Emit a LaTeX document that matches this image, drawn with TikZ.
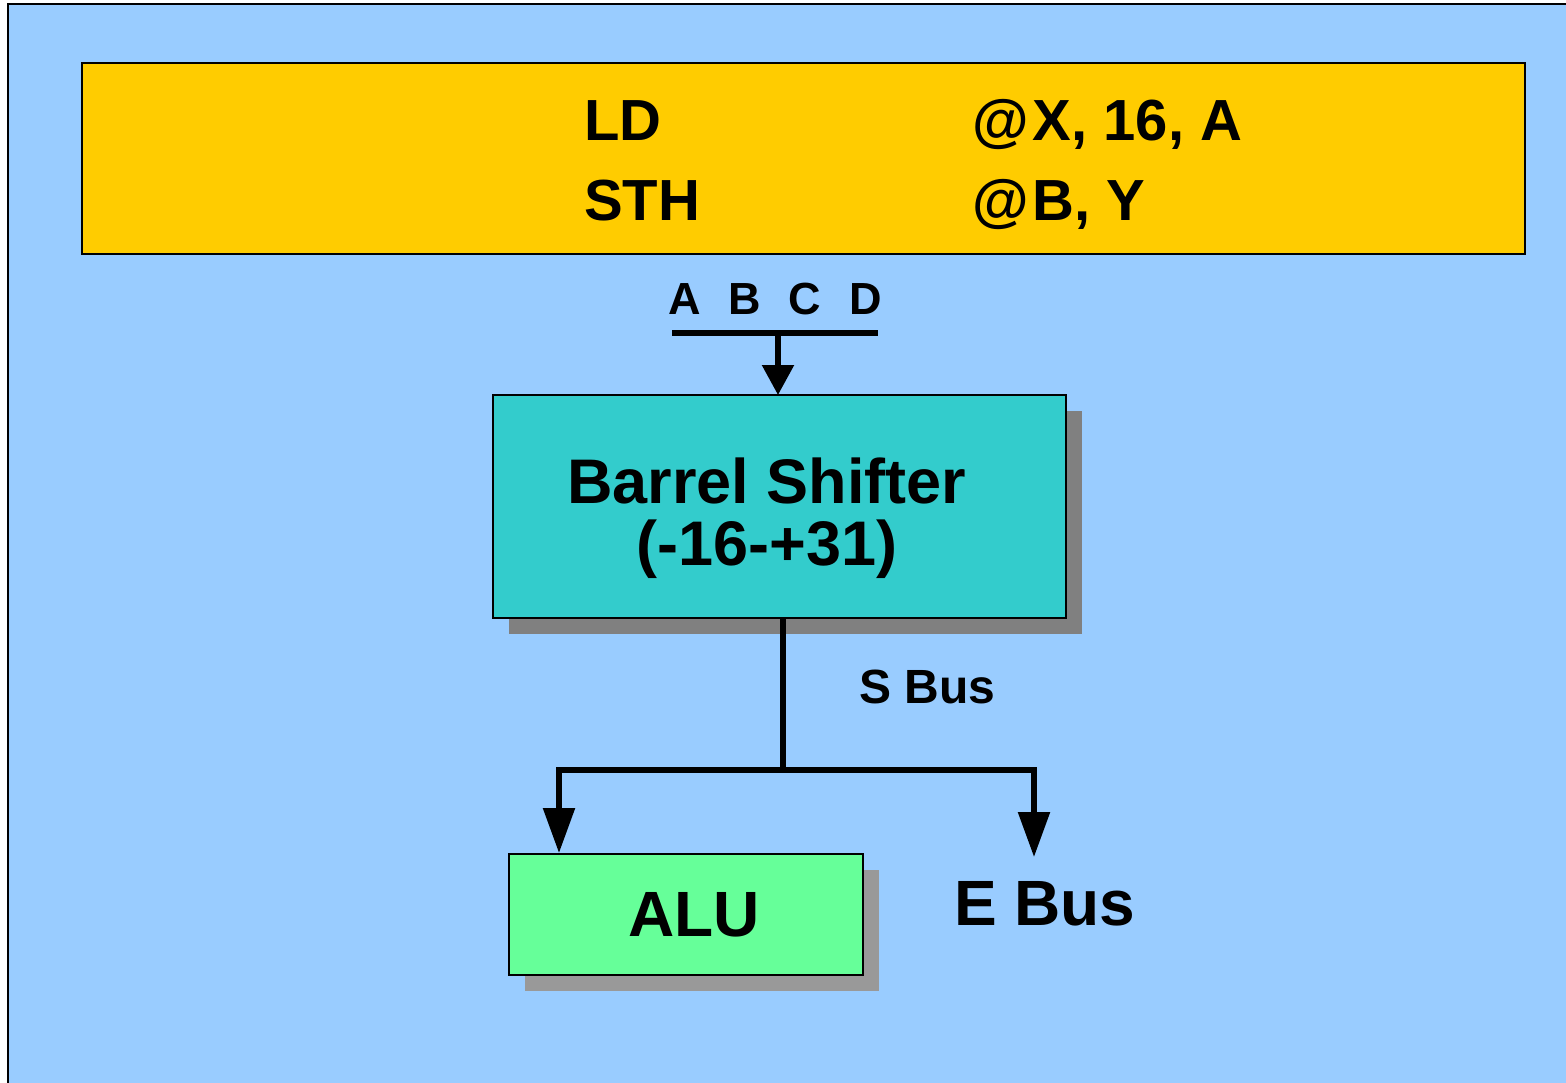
\documentclass[tikz,border=0pt]{standalone}
\usepackage{fontspec}
\setmainfont{Liberation Sans}
\usepackage{tikz}
\usetikzlibrary{arrows.meta,positioning,shadows}

\definecolor{slideblue}{HTML}{99CCFF}
\definecolor{codeyellow}{HTML}{FFCC00}
\definecolor{shifterteal}{HTML}{33CCCC}
\definecolor{alugreen}{HTML}{66FF99}
\definecolor{darkshadow}{HTML}{808080}
\definecolor{lightshadow}{HTML}{999999}

\newcommand{\fsz}[1]{\fontsize{#1}{#1}\selectfont\bfseries}

\begin{document}
\begin{tikzpicture}[x=1pt,y=-1pt,
	box/.style={draw=black,line width=2pt,inner sep=0pt,align=center},
	txt/.style={inner sep=0pt},
	bus/.style={line width=5.5pt},
	tip/.style={-{Triangle[length=#1,width=31pt]}}]
				%\draw[color=gray,step=50, help lines,opacity=0.3] (0,0) grid (1566,1082); %help grids
				\useasboundingbox (0,0) rectangle (1566,1082);
				\draw[fill=slideblue,line width=2pt] (8,4) rectangle (1590,1100);

				% program
				\node[box,fill=codeyellow,minimum width=1443pt,minimum height=191pt] (prog) at (803.5,158.5) {};
				\node[txt,anchor=base west,font=\fsz{58}] (ld) at (584,140) {LD};
				\node[txt,anchor=base west,font=\fsz{58}] (ldarg) at (972,140) {@\kern4pt X, 16, A};
				\node[txt,anchor=base west,font=\fsz{58}] (sth) at (584,220) {STH};
				\node[txt,anchor=base west,font=\fsz{58}] (stharg) at (972,220) {@\kern4pt B, Y};

				% registers
				\node[txt,anchor=base,font=\fsz{45}] (regs) at (775,314) {A\hspace{28pt}B\hspace{28pt}C\hspace{28pt}D};
				\coordinate (regbusL) at (672,333);
				\coordinate (regbusR) at (878,333);

				% units
				\node[box,fill=shifterteal,minimum width=573pt,minimum height=223pt,
					drop shadow={shadow xshift=16pt,shadow yshift=-16pt,fill=darkshadow,opacity=1}] (shifter) at (779.5,506.5) {};
				\node[txt,align=center,font=\fontsize{63}{62}\selectfont\bfseries] (shiftername) at (767,518) {Barrel Shifter\\(-16-+31)};
				\node[box,fill=alugreen,minimum width=354pt,minimum height=121pt,
					drop shadow={shadow xshift=16pt,shadow yshift=-16pt,fill=lightshadow,opacity=1},
					font=\fsz{64}] (alu) at (686,914.5) {\hspace*{16pt}ALU};
				\node[txt,anchor=base west,font=\fsz{48}] (sbus) at (859,703) {S Bus};
				\node[txt,anchor=base west,font=\fsz{64}] (ebus) at (954,925) {E Bus};

				\coordinate (split) at (783,770);
				\coordinate (splitL) at (559,770);
				\coordinate (ebusin) at (1034,857);

				\draw[bus] (regbusL) -- (regbusR);
				\draw[bus,tip=30pt] (regs.south |- regbusL) ++(3,0) -- (778,395);
				\draw[bus] (shifter.south -| split) -- ([yshift=-3pt]split);
				\draw[bus,tip=45pt] (split) -| (alu.north -| splitL);
				\draw[bus,tip=45pt] (split) -| (ebusin);
\end{tikzpicture}
\end{document}
